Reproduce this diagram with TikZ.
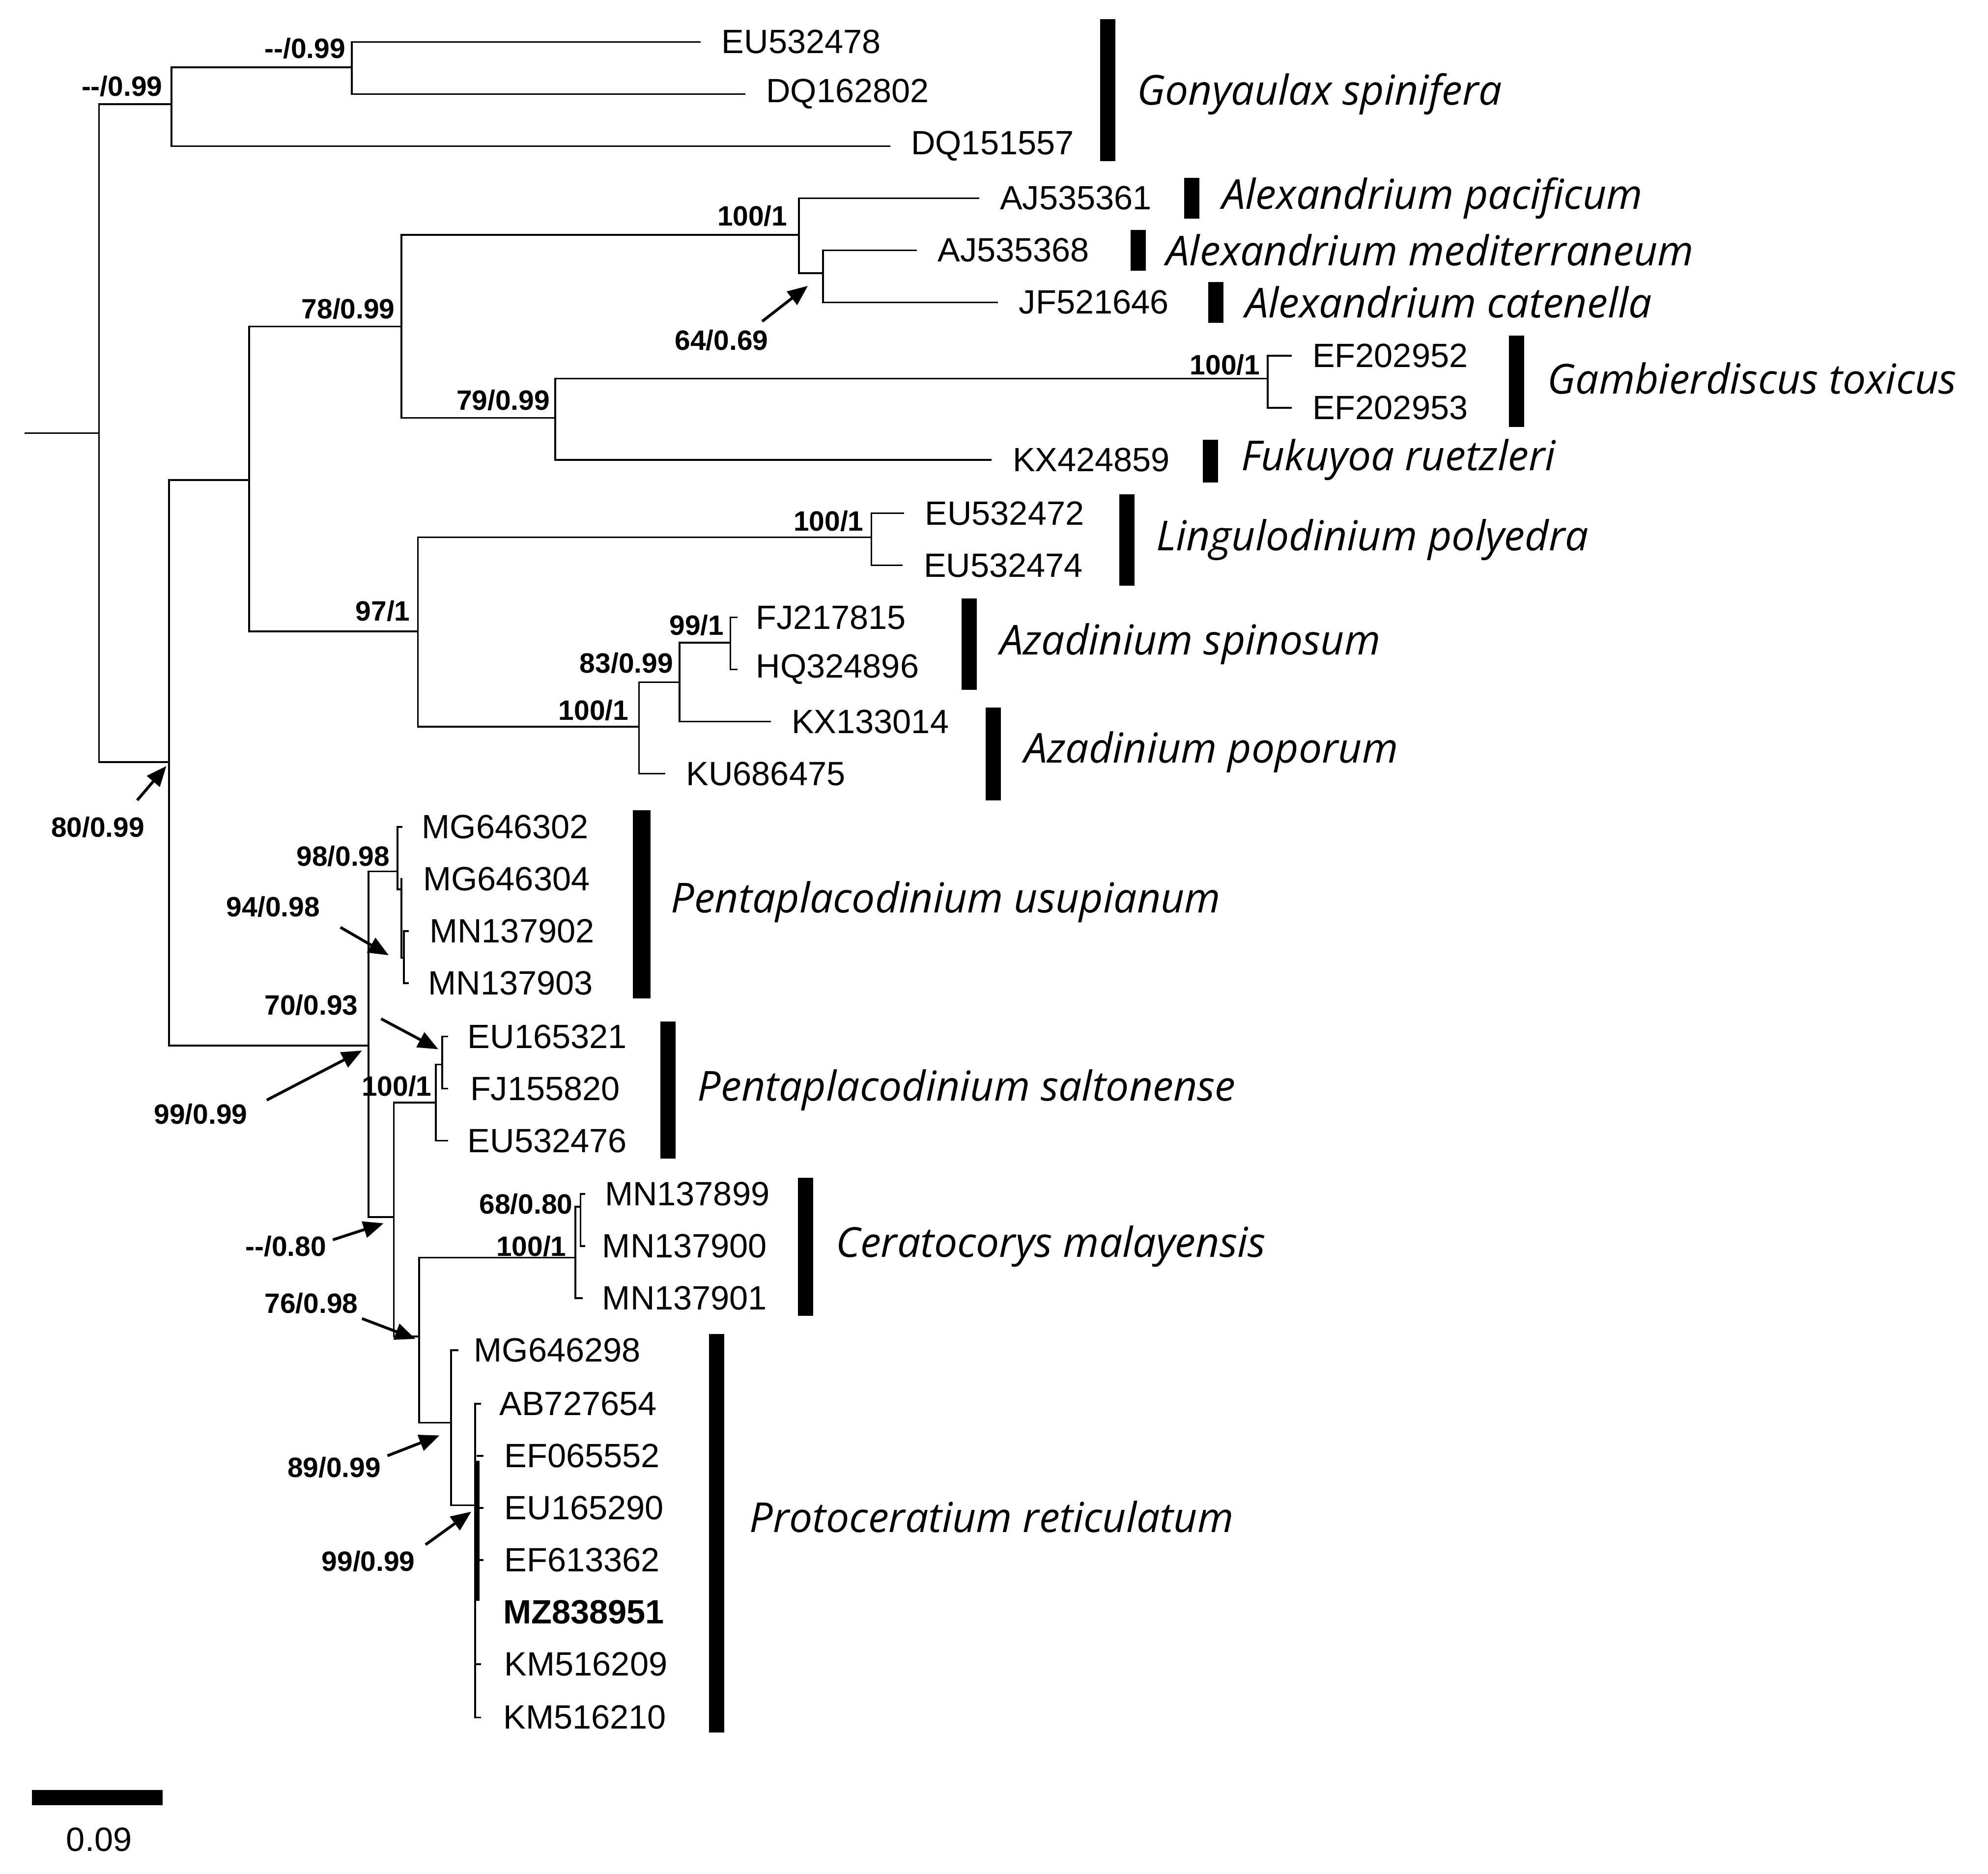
\documentclass[tikz,border=0pt]{standalone}
\usepackage{fontspec}
\setmainfont{Liberation Sans}
\newfontfamily\spfont{Open Sans}
\usetikzlibrary{arrows.meta}
\tikzset{
 br/.style={line width=1.4pt,line cap=rect},
 leaf/.style={anchor=west,inner sep=0pt,font=\fontsize{26.5}{30}\selectfont},
 sup/.style={inner sep=0pt,font=\bfseries\fontsize{22}{24}\selectfont},
 sp/.style={anchor=west,inner sep=0pt,font=\spfont\itshape\fontsize{32.5}{36}\selectfont},
 bar/.style={fill=black,draw=none},
 arr/.style={line width=2.2pt,-{Triangle[length=16pt,width=13pt]}}
}
\newcommand\lf[5]{\node[leaf] (#1) at (#2,#3) {#4}; \draw[br] (#5,#3) -- ([xshift=-17pt]#1.west);}
\begin{document}
\begin{tikzpicture}[x=1pt,y=-1pt]
\useasboundingbox (0,0) rectangle (1565,1475);
% root
\coordinate (r) at (78,341);
\draw[br] (20,341) -- (r);
\draw[br] (78,82) -- (78,600);
% Gonyaulax
\draw[br] (78,82) -- (135,82) (135,53) -- (135,115) (135,53) -- (277,53) (277,33) -- (277,74);
\lf{g1}{568}{33}{EU532478}{277}
\lf{g2}{603}{74}{DQ162802}{277}
\lf{g3}{717}{115}{DQ151557}{135}
\node[sup,anchor=east] at (272,38) {{-}{-}/0.99};
\node[sup,anchor=east] at (128,68) {{-}{-}/0.99};
% lower
\draw[br] (78,600) -- (133,600) (133,378) -- (133,823) (133,378) -- (196,378) (196,257) -- (196,497);
\draw[br] (196,257) -- (316,257) (316,185) -- (316,329) (316,185) -- (629,185) (629,156) -- (629,215) (629,215) -- (648,215) (648,197) -- (648,238);
\lf{a1}{787}{156}{AJ535361}{629}
\lf{a2}{738}{197}{AJ535368}{648}
\lf{a3}{802}{238}{JF521646}{648}
\node[sup,anchor=east] at (620,170) {100/1};
\node[sup,anchor=east] at (311,243) {78/0.99};
\node[sup] (l64) at (568,268) {64/0.69};
\draw[arr] (600,253) -- (636,225);
\draw[br] (316,329) -- (437,329) (437,298) -- (437,362) (437,298) -- (998,298) (998,280) -- (998,321);
\lf{e1}{1033}{280}{EF202952}{998}
\lf{e2}{1033}{321}{EF202953}{998}
\lf{k1}{797}{362}{KX424859}{437}
\node[sup,anchor=east] at (992,287) {100/1};
\node[sup,anchor=east] at (433,315) {79/0.99};
\draw[br] (196,497) -- (329,497) (329,423) -- (329,572) (329,423) -- (686,423) (686,404) -- (686,445);
\lf{li1}{728}{404}{EU532472}{686}
\lf{li2}{727}{445}{EU532474}{686}
\node[sup,anchor=east] at (680,410) {100/1};
\node[sup,anchor=east] at (323,481) {97/1};
\draw[br] (329,572) -- (503,572) (503,537) -- (503,609) (503,537) -- (535,537) (535,506) -- (535,568) (535,506) -- (575,506) (575,486) -- (575,527);
\node[leaf] at (595,486) {FJ217815}; \draw[br] (575,486) -- (580,486);
\node[leaf] at (595,527) {HQ324896}; \draw[br] (575,527) -- (580,527);
\lf{az3}{623}{568}{KX133014}{535}
\lf{az4}{540}{609}{KU686475}{503}
\node[sup,anchor=east] at (570,492) {99/1};
\node[sup,anchor=east] at (530,522) {83/0.99};
\node[sup,anchor=east] at (495,559) {100/1};
\node[sup] at (77,651) {80/0.99};
\draw[arr] (108,630) -- (131,603);
% Pentaplacodinium etc
\draw[br] (133,823) -- (290,823) (290,686) -- (290,958) (290,686) -- (313,686) (313,651) -- (313,700) (313,700) -- (316,700) (316,692) -- (316,754) (316,754) -- (318,754) (318,733) -- (318,774);
\node[leaf] at (332,651) {MG646302}; \draw[br] (313,651) -- (316,651);
\node[leaf] at (333,692) {MG646304};
\node[leaf] at (338,733) {MN137902}; \draw[br] (318,733) -- (321,733);
\node[leaf] at (337,774) {MN137903}; \draw[br] (318,774) -- (321,774);
\node[sup,anchor=east] at (307,674) {98/0.98};
\node[sup] at (215,714) {94/0.98};
\draw[arr] (268,730) -- (306,752);
\node[sup] at (245,791) {70/0.93};
\draw[arr] (300,802) -- (345,826);
\draw[br] (290,958) -- (310,958) (310,868) -- (310,1052) (310,868) -- (343,868) (343,838) -- (343,898) (343,838) -- (348,838) (348,816) -- (348,857);
\node[leaf] at (368,816) {EU165321}; \draw[br] (348,816) -- (352,816);
\node[leaf] at (370,857) {FJ155820}; \draw[br] (348,857) -- (352,857);
\node[leaf] at (368,898) {EU532476}; \draw[br] (343,898) -- (352,898);
\node[sup,anchor=east] at (340,855) {100/1};
\node[sup] at (158,877) {99/0.99};
\draw[arr] (210,866) -- (285,827);
\draw[br] (310,1052) -- (330,1052) (330,990) -- (330,1120) (330,990) -- (453,990) (453,950) -- (453,1022) (453,950) -- (457,950) (457,940) -- (457,981);
\node[leaf] at (476,940) {MN137899}; \draw[br] (457,940) -- (460,940);
\node[leaf] at (474,981) {MN137900}; \draw[br] (457,981) -- (460,981);
\node[leaf] at (474,1022) {MN137901}; \draw[br] (453,1022) -- (458,1022);
\node[sup,anchor=east] at (451,948) {68/0.80};
\node[sup,anchor=east] at (446,981) {100/1};
\node[sup] at (225,981) {{-}{-}/0.80};
\draw[arr] (262,976) -- (302,963);
\node[sup] at (245,1026) {76/0.98};
\draw[arr] (285,1038) -- (327,1054);
\draw[br] (330,1120) -- (355,1120) (355,1063) -- (355,1185) (355,1185) -- (374,1185) (374,1105) -- (374,1352);
\draw[line width=3pt] (376,1150) -- (376,1260);
\node[leaf] at (373,1063) {MG646298}; \draw[br] (355,1063) -- (360,1063);
\node[leaf] at (393,1105) {AB727654}; \draw[br] (374,1105) -- (378,1105);
\node[leaf] at (397,1146) {EF065552}; \draw[br] (376,1146) -- (380,1146);
\node[leaf] at (397,1187) {EU165290}; \draw[br] (376,1187) -- (380,1187);
\node[leaf] at (397,1228) {EF613362}; \draw[br] (376,1228) -- (380,1228);
\node[leaf,font=\bfseries\fontsize{26.5}{30}\selectfont] at (396,1269) {MZ838951};
\node[leaf] at (397,1310) {KM516209}; \draw[br] (374,1310) -- (378,1310);
\node[leaf] at (396,1352) {KM516210}; \draw[br] (374,1352) -- (378,1352);
\node[sup] at (263,1155) {89/0.99};
\draw[arr] (305,1146) -- (346,1130);
\node[sup] at (290,1229) {99/0.99};
\draw[arr] (335,1216) -- (371,1190);
% bars and species
\fill[bar] (866,15) rectangle (878,127);   \node[sp] at (895,74) {Gonyaulax spinifera};
\fill[bar] (932,140) rectangle (944,172);  \node[sp] at (962,156) {Alexandrium pacificum};
\fill[bar] (890,181) rectangle (902,213);  \node[sp] at (918,197) {Alexandrium mediterraneum};
\fill[bar] (951,222) rectangle (963,254);  \node[sp] at (980,238) {Alexandrium catenella};
\fill[bar] (1188,264) rectangle (1200,336);\node[sp] at (1218,298) {Gambierdiscus toxicus};
\fill[bar] (947,346) rectangle (959,380);  \node[sp] at (977,362) {Fukuyoa ruetzleri};
\fill[bar] (881,389) rectangle (893,461);  \node[sp] at (910,425) {Lingulodinium polyedra};
\fill[bar] (757,471) rectangle (769,543);  \node[sp] at (787,507) {Azadinium spinosum};
\fill[bar] (776,557) rectangle (788,630);  \node[sp] at (806,592) {Azadinium poporum};
\fill[bar] (498,638) rectangle (512,786);  \node[sp] at (528,710) {Pentaplacodinium usupianum};
\fill[bar] (520,804) rectangle (532,912);  \node[sp] at (549,858) {Pentaplacodinium saltonense};
\fill[bar] (628,927) rectangle (640,1036); \node[sp] at (658,981) {Ceratocorys malayensis};
\fill[bar] (558,1050) rectangle (570,1364);\node[sp] at (590,1194) {Protoceratium reticulatum};
% scale
\fill[bar] (25,1409) rectangle (128,1421);
\node[leaf,anchor=center] at (78,1448) {0.09};
\end{tikzpicture}
\end{document}
